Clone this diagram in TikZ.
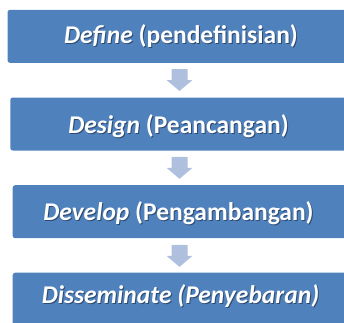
\documentclass[tikz,border=0pt]{standalone}
\usepackage{fontspec}
\setmainfont{Carlito}
\definecolor{boxblue}{HTML}{4F81BD}
\definecolor{arrowblue}{HTML}{AFC0DE}
\definecolor{textshade}{HTML}{2C4A70}
% white lettering with a soft dark drop shadow
\newcommand\shadowtext[1]{\makebox[0pt][l]{\hspace{1pt}\raisebox{-1pt}{\color{textshade}#1}}{\color{white}#1}}
\begin{document}
\begin{tikzpicture}[x=1pt,y=1pt,
  stepbox/.style={rectangle, rounded corners=2.5pt, fill=boxblue, draw=none,
    minimum height=53pt, inner sep=0pt},
  steptext/.style={anchor=base, inner sep=0pt,
    font=\fontsize{25.5}{29}\selectfont\bfseries},
  downarrow/.pic={\fill[arrowblue] (-8,11) -- (8,11) -- (8,0) -- (13,0) -- (0,-11)
    -- (-13,0) -- (-8,0) -- cycle;}]
\useasboundingbox (0,0) rectangle (344,322);
\clip (0,0) rectangle (344,322);

% the four stages
\node[stepbox, minimum width=352.5pt] (b1) at (183.75,285.65) {};
\node[stepbox, minimum width=349.7pt] (b2) at (185.15,198) {};
\node[stepbox, minimum width=347.3pt] (b3) at (186.35,110.3) {};
\node[stepbox, minimum width=347.3pt] (b4) at (186.35,22.8) {};

\node[steptext] (t1) at (181,278.5) {\shadowtext{\textit{Define} (pendefinisian)}};
\node[steptext] (t2) at (178.5,189) {\shadowtext{\textit{Design} (Peancangan)}};
\node[steptext] (t3) at (178.5,101.3) {\shadowtext{\textit{Develop} (Pengambangan)}};
\node[steptext] (t4) at (180.5,18.7) {\shadowtext{\textit{Disseminate (Penyebaran)}}};

% block arrows between the stages
\coordinate (a1) at (179.5,242);
\coordinate (a2) at (179.5,154.2);
\coordinate (a3) at (179.5,66.15);
\pic at (a1) {downarrow};
\pic at (a2) {downarrow};
\pic at (a3) {downarrow};
\end{tikzpicture}
\end{document}
